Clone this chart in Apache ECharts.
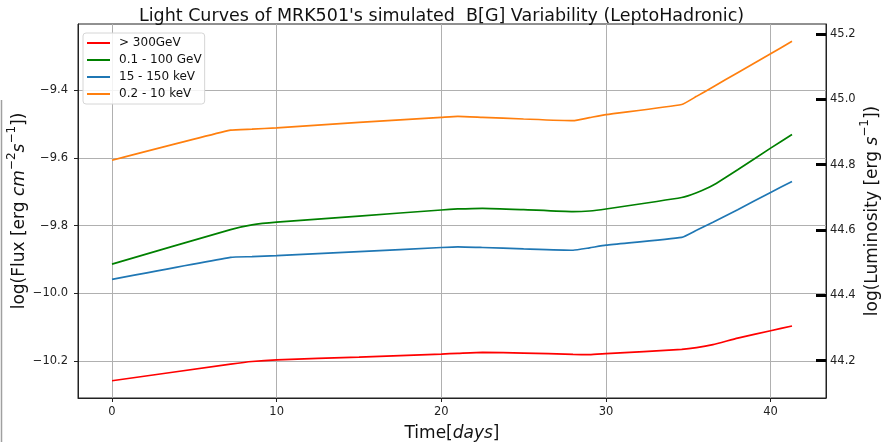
<!DOCTYPE html>
<html>
<head>
<meta charset="utf-8">
<script src="https://cdn.jsdelivr.net/npm/echarts@6/dist/echarts.min.js"></script>
<style>
html,body{margin:0;padding:0;background:#fff;}
#chart{width:883px;height:442px;}
</style>
</head>
<body>
<div id="chart"></div>
<script>
// ---- data ----
var days = [0, 7.2, 8.5, 10, 15, 20, 21, 22.5, 25, 28, 29, 30, 34.6, 35.5, 36.5, 38, 40, 41.3];
var seriesNames = ['> 300GeV', '0.1 - 100 GeV', '15 - 150 keV', '0.2 - 10 keV'];
var fluxVHE   = [-10.259, -10.210, -10.202, -10.197, -10.189, -10.180, -10.178, -10.175, -10.177, -10.181, -10.182, -10.179, -10.166, -10.161, -10.152, -10.133, -10.111, -10.097];
var fluxHE    = [-9.914, -9.812, -9.798, -9.790, -9.772, -9.754, -9.751, -9.749, -9.753, -9.759, -9.757, -9.751, -9.717, -9.703, -9.681, -9.635, -9.571, -9.531];
var fluxHardX = [-9.959, -9.894, -9.892, -9.889, -9.877, -9.865, -9.863, -9.865, -9.869, -9.873, -9.866, -9.858, -9.835, -9.814, -9.790, -9.753, -9.702, -9.670];
var fluxSoftX = [-9.607, -9.518, -9.515, -9.511, -9.495, -9.480, -9.477, -9.480, -9.485, -9.490, -9.481, -9.472, -9.442, -9.418, -9.390, -9.348, -9.292, -9.255];
var xTicks = [0, 10, 20, 30, 40];
var yTicks = [-10.2, -10.0, -9.8, -9.6, -9.4];
var lumTicks = [44.2, 44.4, 44.6, 44.8, 45.0, 45.2];
var colors = ['#ff0000', '#008000', '#1f77b4', '#ff7f0e'];

function pairs(ys) { return days.map(function (d, i) { return [d, ys[i]]; }); }
function fmt(v) { var s = v.toFixed(1); return s.replace('-', '\u2212'); }

var FONT = 'DejaVu Sans';
var chart = echarts.init(document.getElementById('chart'), null, {renderer: 'canvas'});
var allSeries = [fluxVHE, fluxHE, fluxHardX, fluxSoftX];

function richName(fs) {
  return {
    n: {fontFamily: FONT, fontSize: fs, color: '#111', lineHeight: 22, verticalAlign: 'bottom'},
    i: {fontFamily: FONT, fontSize: fs, fontStyle: 'italic', color: '#111', lineHeight: 22, verticalAlign: 'bottom'},
    s: {fontFamily: FONT, fontSize: 12, color: '#111', lineHeight: 22, verticalAlign: 'top'}
  };
}

var option = {
  animation: false,
  backgroundColor: '#fff',
  title: {
    text: "Light Curves of MRK501's simulated  B[G] Variability (LeptoHadronic)",
    left: 'center', top: 2,
    textStyle: {fontFamily: FONT, fontSize: 17.5, fontWeight: 'normal', color: '#111'}
  },
  legend: {
    left: 83, top: 33, orient: 'vertical',
    icon: 'rect', itemWidth: 23, itemHeight: 2, itemGap: 3,
    padding: [3, 3, 3, 4],
    borderColor: '#d6d6d6', borderWidth: 1, borderRadius: 3,
    backgroundColor: 'rgba(255,255,255,0.85)',
    textStyle: {fontFamily: FONT, fontSize: 12, color: '#111', lineHeight: 14, padding: [0, 0, 0, 4]},
    data: seriesNames
  },
  grid: {
    left: 78, right: 57, top: 24, bottom: 44,
    outerBoundsMode: 'none', containLabel: false,
    show: true, borderColor: '#222', borderWidth: 1, backgroundColor: 'transparent'
  },
  xAxis: {
    type: 'value', min: -2.065, max: 43.365,
    name: '{n|Time[}{i|days}{n|]}',
    nameLocation: 'middle', nameGap: 22, nameMoveOverlap: false,
    nameTextStyle: {rich: richName(17)},
    axisLine: {show: true, onZero: false, lineStyle: {color: '#222', width: 1}},
    axisTick: {show: true, length: 4, lineStyle: {color: '#222'}, customValues: xTicks},
    axisLabel: {fontFamily: FONT, fontSize: 11.5, color: '#222', margin: 8, customValues: xTicks,
      formatter: function (v) { return String(Math.round(v)); }},
    splitLine: {show: true, lineStyle: {color: '#b0b0b0', width: 1}}
  },
  yAxis: [{
    type: 'value', min: -10.31, max: -9.204, position: 'left',
    name: '{n|log(Flux [erg }{i|cm}{s|\u22122}{i|s}{s|\u22121}{n|])}',
    nameLocation: 'middle', nameGap: 50, nameRotate: 90, nameMoveOverlap: false,
    nameTextStyle: {rich: richName(17)},
    axisLine: {show: true, onZero: false, lineStyle: {color: '#222', width: 1}},
    axisTick: {show: true, length: 4, lineStyle: {color: '#222'}, customValues: yTicks},
    axisLabel: {fontFamily: FONT, fontSize: 11.5, color: '#222', margin: 10, customValues: yTicks,
      formatter: function (v) { return fmt(v); }},
    splitLine: {show: true, lineStyle: {color: '#b0b0b0', width: 1}}
  }, {
    type: 'value', min: 44.086, max: 45.23, position: 'right',
    name: '{n|log(Luminosity [erg }{i|s}{s|\u22121}{n|])}',
    nameLocation: 'middle', nameGap: 33, nameRotate: 90, nameMoveOverlap: false,
    nameTextStyle: {rich: richName(17)},
    axisLine: {show: true, onZero: false, lineStyle: {color: '#222', width: 1}},
    axisTick: {show: true, inside: true, length: 10, lineStyle: {color: '#000', width: 3}, customValues: lumTicks},
    axisLabel: {fontFamily: FONT, fontSize: 11.5, color: '#222', margin: 4, customValues: lumTicks,
      formatter: function (v) { return v.toFixed(1); }},
    splitLine: {show: false}
  }],
  series: seriesNames.map(function (name, k) {
    return {
      name: name, type: 'line', yAxisIndex: 0,
      data: pairs(allSeries[k]),
      showSymbol: false, symbol: 'none', smooth: 0.15,
      lineStyle: {color: colors[k], width: 1.7},
      itemStyle: {color: colors[k]},
      z: 3
    };
  }),
  graphic: [{
    type: 'line', shape: {x1: 1.5, y1: 100, x2: 1.5, y2: 442},
    style: {stroke: '#a0a0a0', lineWidth: 1.5}, silent: true
  }]
};
chart.setOption(option);
</script>
</body>
</html>
